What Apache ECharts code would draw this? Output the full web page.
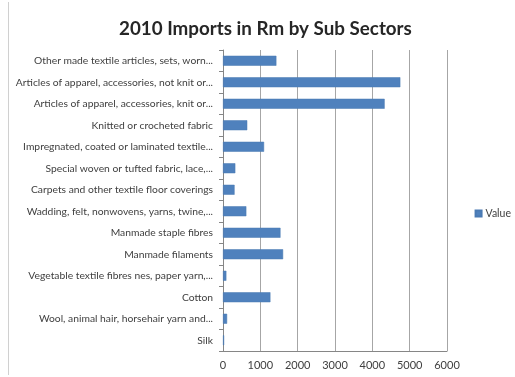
<!DOCTYPE html>
<html>
<head>
<meta charset="utf-8">
<script src="https://cdn.jsdelivr.net/npm/echarts@6/dist/echarts.min.js"></script>
<style>
  html, body { margin: 0; padding: 0; background: #ffffff; }
  #chart { width: 515px; height: 377px; }
</style>
</head>
<body>
<div id="chart"></div>
<script>
// Sub sectors, listed top to bottom as shown on the category axis
const subSectors = [
  'Other made textile articles, sets, worn...',
  'Articles of apparel, accessories, not knit or...',
  'Articles of apparel, accessories, knit or...',
  'Knitted or crocheted fabric',
  'Impregnated, coated or laminated textile...',
  'Special woven or tufted fabric, lace,...',
  'Carpets and other textile floor coverings',
  'Wadding, felt, nonwovens, yarns, twine,...',
  'Manmade staple fibres',
  'Manmade filaments',
  'Vegetable textile fibres nes, paper yarn,...',
  'Cotton',
  'Wool, animal hair, horsehair yarn and...',
  'Silk'
];

// 2010 import values in Rm, one per sub sector
const importValues = [1430, 4750, 4330, 650, 1100, 330, 310, 625, 1540, 1610, 90, 1270, 110, 30];

// Value axis ticks
const valueTicks = [0, 1000, 2000, 3000, 4000, 5000, 6000];

const seriesName = 'Value';

const chart = echarts.init(document.getElementById('chart'), null, { renderer: 'canvas' });

chart.setOption({
  backgroundColor: '#ffffff',
  animation: false,
  title: {
    text: '2010 Imports in Rm by Sub Sectors',
    left: 114,
    top: 14,
    textStyle: {
      fontFamily: 'Lato',
      fontWeight: 'bold',
      fontSize: 18.8,
      color: '#262626'
    }
  },
  legend: {
    data: [seriesName],
    right: -1,
    top: 203,
    orient: 'vertical',
    itemWidth: 6,
    itemHeight: 6,
    itemGap: 4,
    icon: 'rect',
    textStyle: { fontFamily: 'Lato', fontSize: 10.5, color: '#404040', padding: [0, 0, 0, -1] }
  },
  grid: {
    left: 223,
    right: 68,
    top: 50,
    bottom: 26,
    containLabel: false
  },
  xAxis: {
    type: 'value',
    min: valueTicks[0],
    max: valueTicks[valueTicks.length - 1],
    interval: 1000,
    axisLine: { show: true, lineStyle: { color: '#868686', width: 1 } },
    axisTick: { show: false },
    splitLine: { show: true, lineStyle: { color: '#a6a6a6', width: 1 } },
    axisLabel: {
      fontFamily: 'Lato',
      fontSize: 11,
      color: '#404040',
      margin: 9,
      formatter: (v) => String(v)
    }
  },
  yAxis: {
    type: 'category',
    data: subSectors,
    inverse: true,
    axisLine: { show: true, lineStyle: { color: '#868686', width: 1 } },
    axisTick: { show: true, length: 4, lineStyle: { color: '#868686' } },
    splitLine: { show: false },
    axisLabel: {
      fontFamily: 'Lato',
      fontSize: 10.3,
      color: '#404040',
      margin: 10
    }
  },
  series: [{
    name: seriesName,
    type: 'bar',
    data: importValues,
    barWidth: 10,
    itemStyle: { color: '#4f81bd', borderColor: '#4a7ab3', borderWidth: 0.5 }
  }],
  graphic: [{
    type: 'line',
    shape: { x1: 8.5, y1: 2, x2: 8.5, y2: 375 },
    style: { stroke: '#d0d0d0', lineWidth: 1 }
  }]
});
</script>
</body>
</html>
